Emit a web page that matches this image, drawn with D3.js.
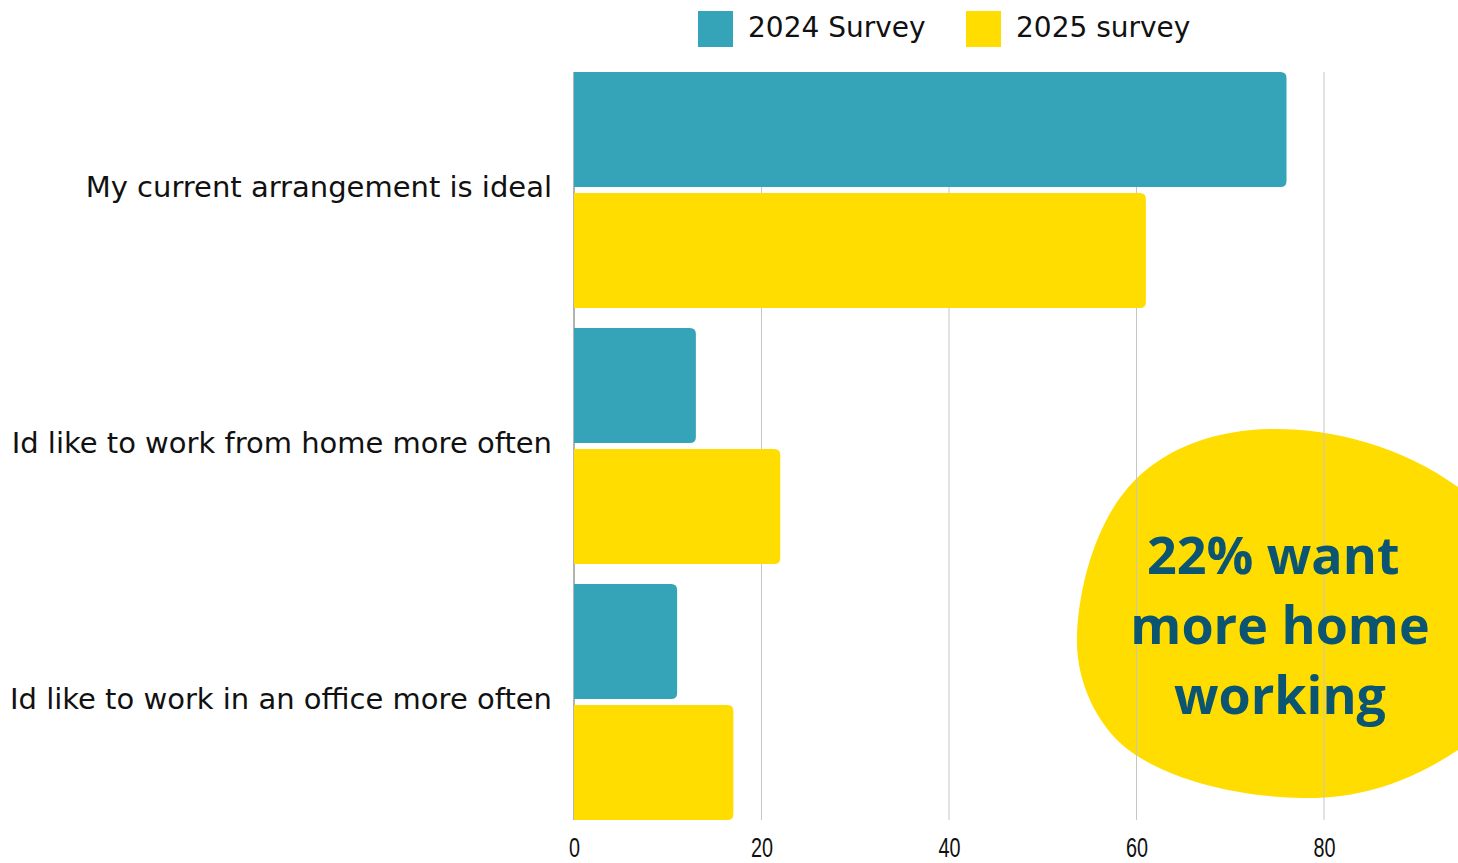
<!DOCTYPE html>
<html>
<head>
<meta charset="utf-8">
<script src="https://cdn.jsdelivr.net/npm/d3@7"></script>
<style>
  html, body { margin: 0; padding: 0; background: #ffffff; }
  svg { display: block; }
</style>
</head>
<body>
<svg id="chart" width="1458" height="863"></svg>
<script>
// Survey responses, in percent
const categories = [
  "My current arrangement is ideal",
  "Id like to work from home more often",
  "Id like to work in an office more often"
];
const seriesNames = ["2024 Survey", "2025 survey"];
const values2024 = [76, 13, 11];
const values2025 = [61, 22, 17];
const xTicks = [0, 20, 40, 60, 80];
const calloutLines = ["22% want ", "more home", "working"];

const colors = ["#35a4b8", "#ffdd00"];
const labelFont = "'DejaVu Sans', sans-serif";
const calloutFont = "'Open Sans', sans-serif";

const svg = d3.select("#chart");

const x = d3.scaleLinear().domain([0, 80]).range([574, 1324]);
const y = d3.scaleBand().domain(categories).range([72, 820]).paddingInner(20 / 256);
const ySub = d3.scaleBand().domain(seriesNames).range([0, y.bandwidth()]).paddingInner(6 / 121);

const rows = categories.map((c, i) => ({
  category: c,
  values: [
    { series: seriesNames[0], value: values2024[i], color: colors[0] },
    { series: seriesNames[1], value: values2025[i], color: colors[1] }
  ]
}));

// Callout blob sits behind the grid
const blob = svg.append("g");
blob.append("path")
  .attr("d", "M1270,429 C1330,428 1400,445 1458,487 C1520,530 1520,710 1458,750 " +
             "C1410,782 1360,799 1303,798 C1230,797 1150,775 1115,738 " +
             "C1085,705 1076,665 1077,637 C1078,590 1095,520 1135,480 " +
             "C1170,445 1220,430 1270,429 Z")
  .attr("fill", "#ffdd00");

// Vertical grid lines
svg.append("g")
  .selectAll("line")
  .data(xTicks.filter(d => d > 0))
  .join("line")
  .attr("x1", d => x(d)).attr("x2", d => x(d))
  .attr("y1", 72).attr("y2", 820)
  .attr("stroke", "#c6c6c6").attr("stroke-width", 1);

// Zero baseline
svg.append("line")
  .attr("x1", x(0)).attr("x2", x(0))
  .attr("y1", 72).attr("y2", 820)
  .attr("stroke", "#9a9a9a").attr("stroke-width", 1.5);

// Bars with rounded right ends
function barPath(x0, x1, y0, h, r) {
  r = Math.min(r, (x1 - x0), h / 2);
  return `M${x0},${y0} H${x1 - r} Q${x1},${y0} ${x1},${y0 + r} V${y0 + h - r} Q${x1},${y0 + h} ${x1 - r},${y0 + h} H${x0} Z`;
}

const groups = svg.append("g").selectAll("g")
  .data(rows)
  .join("g")
  .attr("transform", d => `translate(0,${y(d.category)})`);

groups.selectAll("path")
  .data(d => d.values)
  .join("path")
  .attr("d", d => barPath(x(0), x(d.value), ySub(d.series), ySub.bandwidth(), 6))
  .attr("fill", d => d.color);

// Category labels
svg.append("g")
  .selectAll("text")
  .data(categories)
  .join("text")
  .attr("x", x(0) - 22)
  .attr("y", d => y(d) + y.bandwidth() / 2 - 3)
  .attr("dy", "0.35em")
  .attr("text-anchor", "end")
  .attr("font-family", labelFont)
  .attr("font-size", 29)
  .attr("fill", "#111")
  .text(d => d);

// X axis tick labels (condensed digits)
const xAxis = d3.axisBottom(x).tickValues(xTicks).tickSize(0).tickPadding(0);
const axisG = svg.append("g").attr("transform", "translate(0,857)").call(xAxis);
axisG.select(".domain").remove();
axisG.selectAll(".tick text")
  .attr("font-family", "'Liberation Sans', sans-serif")
  .attr("font-size", 27.5)
  .attr("fill", "#111")
  .attr("y", 0)
  .attr("dy", 0)
  .attr("transform", "scale(0.72,1)");

// Legend
const legend = svg.append("g");
const legendItems = [
  { name: seriesNames[0], color: colors[0], x: 698 },
  { name: seriesNames[1], color: colors[1], x: 966 }
];
const li = legend.selectAll("g").data(legendItems).join("g")
  .attr("transform", d => `translate(${d.x},11)`);
li.append("rect").attr("width", 35).attr("height", 36).attr("fill", d => d.color);
li.append("text")
  .attr("x", 50).attr("y", 16).attr("dy", "0.35em")
  .attr("font-family", labelFont)
  .attr("font-size", 28)
  .attr("fill", "#111")
  .text(d => d.name);

// Callout text
svg.append("g")
  .selectAll("text")
  .data(calloutLines)
  .join("text")
  .attr("x", 1280)
  .attr("y", (d, i) => 574 + i * 70)
  .attr("text-anchor", "middle")
  .style("white-space", "pre")
  .attr("font-family", calloutFont)
  .attr("font-weight", 700)
  .attr("font-size", 52)
  .attr("fill", "#0b5573")
  .text(d => d);
</script>
</body>
</html>
